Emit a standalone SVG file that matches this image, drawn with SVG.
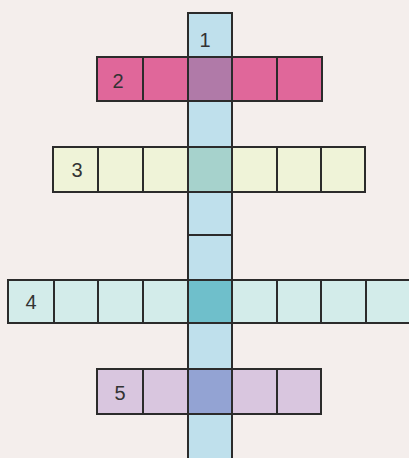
<svg xmlns="http://www.w3.org/2000/svg" width="409" height="458" viewBox="0 0 409 458">
<style>
.c{stroke:#2b2b2b;stroke-width:2;stroke-linejoin:miter}
.col{fill:#bfe0ec}
.r2{fill:#e0679a}.x2{fill:#b07aa8}
.r3{fill:#eff3d8}.x3{fill:#a6d2cc}
.r4{fill:#d3ecea}.x4{fill:#6fbfcb}
.r5{fill:#d9c6df}.x5{fill:#93a3d3}
.n{font-family:"Liberation Sans",Arial,sans-serif;font-size:20px;fill:#333;text-anchor:middle}
</style>
<rect width="409" height="458" fill="#f4eeec"/>
<g id="word1">
<rect class="c col" x="188" y="13" width="44" height="44"/>
<rect class="c col" x="188" y="101" width="44" height="46"/>
<rect class="c col" x="188" y="192" width="44" height="43"/>
<rect class="c col" x="188" y="235" width="44" height="45"/>
<rect class="c col" x="188" y="323" width="44" height="46"/>
<rect class="c col" x="188" y="414" width="44" height="50"/>
<text class="n" x="205" y="47">1</text>
</g>
<g id="word2">
<rect class="c r2" x="97" y="57" width="46" height="44"/>
<rect class="c r2" x="143" y="57" width="45" height="44"/>
<rect class="c x2" x="188" y="57" width="44" height="44"/>
<rect class="c r2" x="232" y="57" width="45" height="44"/>
<rect class="c r2" x="277" y="57" width="45" height="44"/>
<text class="n" x="118" y="88">2</text>
</g>
<g id="word3">
<rect class="c r3" x="53" y="147" width="45" height="45"/>
<rect class="c r3" x="98" y="147" width="45" height="45"/>
<rect class="c r3" x="143" y="147" width="45" height="45"/>
<rect class="c x3" x="188" y="147" width="44" height="45"/>
<rect class="c r3" x="232" y="147" width="45" height="45"/>
<rect class="c r3" x="277" y="147" width="44" height="45"/>
<rect class="c r3" x="321" y="147" width="44" height="45"/>
<text class="n" x="77" y="177">3</text>
</g>
<g id="word4">
<rect class="c r4" x="8" y="280" width="46" height="43"/>
<rect class="c r4" x="54" y="280" width="44" height="43"/>
<rect class="c r4" x="98" y="280" width="45" height="43"/>
<rect class="c r4" x="143" y="280" width="45" height="43"/>
<rect class="c x4" x="188" y="280" width="44" height="43"/>
<rect class="c r4" x="232" y="280" width="45" height="43"/>
<rect class="c r4" x="277" y="280" width="44" height="43"/>
<rect class="c r4" x="321" y="280" width="45" height="43"/>
<rect class="c r4" x="366" y="280" width="50" height="43"/>
<text class="n" x="31" y="309">4</text>
</g>
<g id="word5">
<rect class="c r5" x="97" y="369" width="46" height="45"/>
<rect class="c r5" x="143" y="369" width="45" height="45"/>
<rect class="c x5" x="188" y="369" width="44" height="45"/>
<rect class="c r5" x="232" y="369" width="45" height="45"/>
<rect class="c r5" x="277" y="369" width="44" height="45"/>
<text class="n" x="120" y="400">5</text>
</g>
<g id="connectors"/>
</svg>
